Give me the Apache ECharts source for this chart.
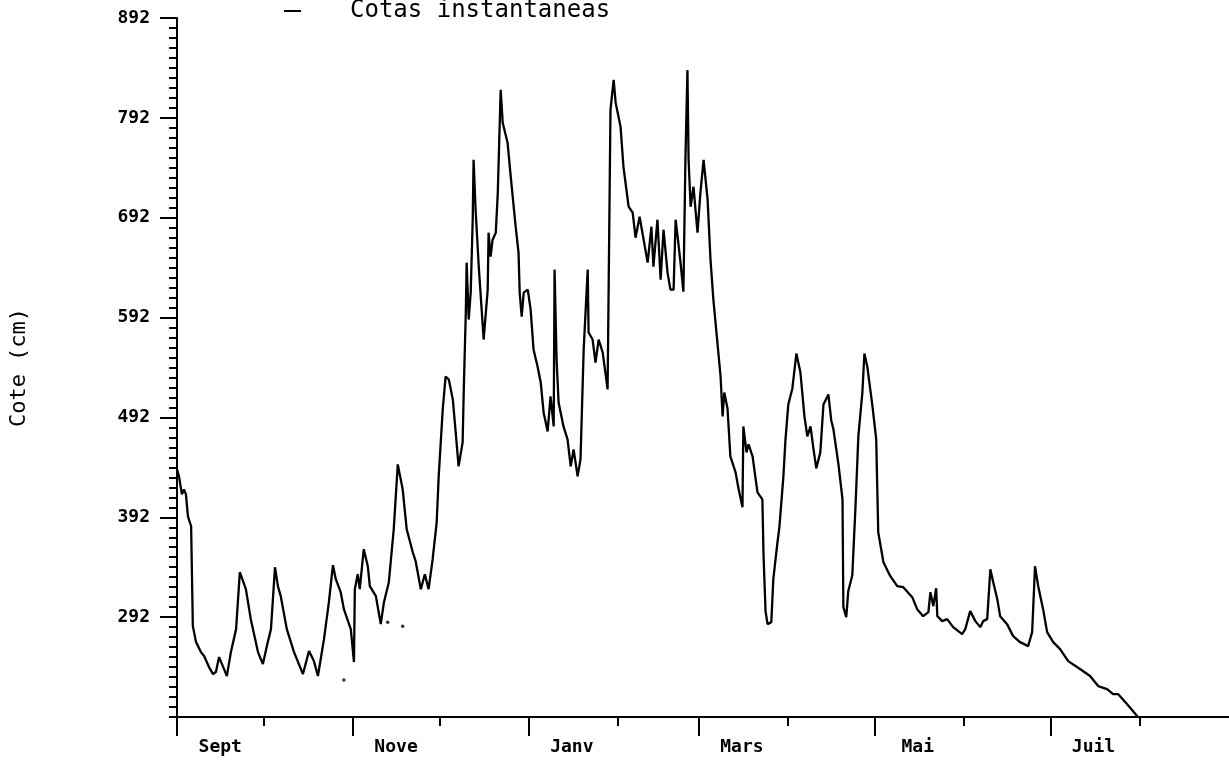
<!DOCTYPE html>
<html><head><meta charset="utf-8">
<script src="https://cdn.jsdelivr.net/npm/echarts@6/dist/echarts.min.js"></script>
<style>html,body{margin:0;padding:0;background:#fff}#c{width:1229px;height:769px}</style>
</head><body><div id="c"></div>
<script>
// day index from 1 September (0..365) and water level (cm)
const days = [
0,0.7,1.7,2.4,3.1,3.8,4.9,5.5,6.6,8.3,
9.4,11.1,12.5,13.5,14.6,15.9,17.3,18.7,20.5,21.8,
23.9,25.6,28.1,29.8,31.5,32.6,34.0,35.0,36.0,38.1,
40.6,43.7,45.8,47.5,48.9,51.0,52.7,54.1,55.1,56.8,
57.9,60.3,61.4,61.7,62.7,63.4,64.8,66.2,66.9,69.0,
70.7,71.8,73.5,75.2,76.6,78.3,79.7,81.8,82.8,84.6,
86.0,87.3,88.7,90.1,90.8,92.2,93.2,94.3,95.7,96.7,
97.7,99.1,99.5,100.2,100.5,101.2,101.9,102.6,102.9,103.6,
104.7,106.4,107.8,108.1,108.8,109.5,110.6,111.3,112.3,113.0,
114.7,115.8,117.5,118.5,118.9,119.6,120.3,121.7,122.7,123.7,
125.1,126.2,127.2,128.6,129.6,130.7,131.0,131.7,132.4,134.1,
135.5,136.6,137.6,139.0,140.0,141.1,142.5,142.8,144.2,145.2,
146.3,147.7,149.4,150.4,151.5,152.2,153.9,154.9,156.7,158.1,
159.1,160.5,161.9,163.3,164.6,165.3,166.7,167.8,168.8,170.2,
171.2,172.3,173.0,173.7,174.7,175.7,176.4,177.1,177.5,178.2,
179.2,180.6,181.6,182.7,184.1,185.1,186.1,188.6,189.3,189.9,
191.0,192.0,193.8,194.8,196.2,196.5,197.6,198.3,199.7,201.4,
203.1,203.5,204.2,204.9,206.2,206.9,208.3,209.0,210.4,211.1,
212.1,213.5,214.9,216.3,217.7,218.7,219.8,220.8,221.8,223.2,
224.3,226.0,227.0,227.7,229.5,230.9,231.2,232.2,232.9,234.3,
235.4,236.4,237.8,238.5,239.5,241.3,242.6,243.3,245.1,247.5,
249.9,252.0,255.1,256.8,258.9,260.7,261.4,262.4,263.4,263.8,
265.5,267.2,269.3,272.4,273.5,275.2,277.0,278.7,279.7,281.1,
282.2,283.2,284.6,285.6,288.0,290.1,292.5,295.3,296.7,297.7,
298.8,300.5,301.9,304.0,306.4,309.2,313.3,316.8,319.6,322.7,
324.8,326.5,329.6,333.4
];
const cotes = [
440,433,415,420,415,393,383,283,267,257,
253,242,235,237,252,243,233,257,280,337,
320,290,257,245,267,280,342,323,313,280,
257,235,258,248,233,270,307,344,330,317,
300,280,247,320,335,320,360,343,323,313,
285,307,327,380,445,420,380,357,348,320,
335,320,350,387,433,500,533,530,510,477,
443,467,520,597,647,590,617,690,750,700,
643,570,620,677,653,670,677,717,820,787,
767,733,683,657,617,593,617,620,600,560,
543,527,497,478,513,483,640,550,507,483,
470,443,460,433,450,560,640,577,570,547,
570,557,520,800,830,807,783,743,703,697,
672,693,670,647,683,643,690,630,680,637,
620,620,690,673,647,618,750,840,750,703,
723,677,717,750,710,650,610,533,493,517,
501,453,437,421,402,483,457,465,453,417,
410,354,298,285,287,330,366,382,433,469,
505,521,556,537,493,473,483,461,441,457,
505,515,489,481,445,410,302,292,318,334,
402,473,517,556,543,503,470,377,347,333,
323,322,312,300,293,297,317,303,321,293,
288,290,282,275,280,298,288,282,288,290,
340,327,310,293,285,273,267,263,277,343,
323,300,277,267,260,248,240,233,223,220,
215,215,205,192
];
// isolated readings
const dotDays = [57.9, 73.1, 78.3];
const dotCotes = [229, 287, 283];

const majorMonthDays = [0, 61, 122, 181, 242, 303];
const minorMonthDays = [30, 91, 153, 212, 273, 334];
const labelDays = [15, 76, 137, 196, 257, 318];
const monthLabels = ['Sept', 'Nove', 'Janv', 'Mars', 'Mai', 'Juil'];
const yTickValues = [292, 392, 492, 592, 692, 792, 892];
const seriesName = 'Cotas instantaneas';
const yName = 'Cote (cm)';

const FONT = 'DejaVu Sans Mono';
const chart = echarts.init(document.getElementById('c'), null, {renderer: 'canvas'});
chart.setOption({
  animation: false,
  backgroundColor: '#ffffff',
  grid: {left: 175, right: 0, top: 18, bottom: 52, containLabel: false},
  legend: {
    left: 279, top: -6,
    data: [seriesName],
    icon: 'rect', itemWidth: 17, itemHeight: 2,
    selectedMode: false,
    textStyle: {fontFamily: FONT, fontSize: 24, color: '#000', padding: [0, 0, 0, 44]}
  },
  xAxis: [{
    type: 'value', min: 0, max: 365, position: 'bottom',
    axisLine: {show: true, lineStyle: {color: '#000', width: 2}},
    axisTick: {show: true, customValues: majorMonthDays, length: 19, lineStyle: {color: '#000', width: 2}},
    axisLabel: {
      customValues: labelDays, margin: 21,
      formatter: v => monthLabels[labelDays.indexOf(v)] || '',
      fontFamily: FONT, fontWeight: 'bold', fontSize: 18, color: '#000'
    },
    splitLine: {show: false}
  }, {
    type: 'value', min: 0, max: 365, position: 'bottom',
    axisLine: {show: false},
    axisTick: {show: true, customValues: minorMonthDays, length: 9, lineStyle: {color: '#000', width: 2}},
    axisLabel: {show: false},
    splitLine: {show: false}
  }],
  yAxis: [{
    type: 'value', min: 192, max: 892, interval: 100, position: 'left',
    axisLine: {show: true, lineStyle: {color: '#000', width: 2}},
    axisTick: {show: true, customValues: yTickValues, length: 17, lineStyle: {color: '#000', width: 2}},
    axisLabel: {customValues: yTickValues, margin: 27, fontFamily: FONT, fontWeight: 'bold', fontSize: 18, color: '#000'},
    splitLine: {show: false},
    name: yName, nameLocation: 'middle', nameGap: 147, nameRotate: 90,
    nameTextStyle: {fontFamily: FONT, fontSize: 22, color: '#000'}
  }, {
    type: 'value', min: 192, max: 892, interval: 10, position: 'left',
    axisLine: {show: false},
    axisTick: {show: true, length: 8, lineStyle: {color: '#000', width: 2}},
    axisLabel: {show: false},
    splitLine: {show: false}
  }],
  series: [{
    name: seriesName, type: 'line', xAxisIndex: 0, yAxisIndex: 0,
    data: days.map((d, i) => [d, cotes[i]]),
    showSymbol: false, symbol: 'none',
    lineStyle: {color: '#000', width: 2.3},
    itemStyle: {color: '#000'}
  }, {
    name: 'points', type: 'scatter', xAxisIndex: 0, yAxisIndex: 0,
    data: dotDays.map((d, i) => [d, dotCotes[i]]),
    symbolSize: 3.5, itemStyle: {color: '#000'}
  }]
});
</script></body></html>
